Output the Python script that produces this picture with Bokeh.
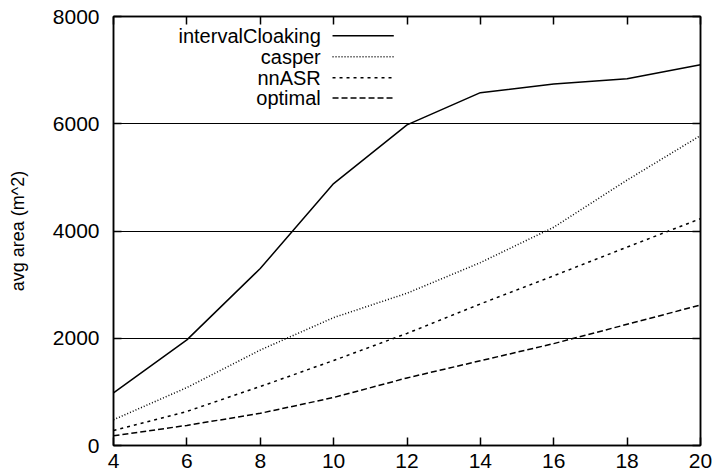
from bokeh.plotting import figure
from bokeh.models import Range1d, LinearAxis, FixedTicker
from bokeh.core.properties import value
from bokeh.embed import file_html
from bokeh.resources import INLINE

# ---- data ----
x_values = [4, 6, 8, 10, 12, 14, 16, 18, 20]
interval_cloaking = [980, 1970, 3300, 4885, 5980, 6580, 6740, 6840, 7100]
casper = [480, 1080, 1780, 2385, 2840, 3410, 4070, 4950, 5780]
nn_asr = [280, 635, 1100, 1585, 2090, 2640, 3165, 3700, 4230]
optimal = [180, 375, 600, 895, 1260, 1580, 1900, 2260, 2620]
series_names = ["intervalCloaking", "casper", "nnASR", "optimal"]
x_ticks = [4, 6, 8, 10, 12, 14, 16, 18, 20]
y_ticks = [0, 2000, 4000, 6000, 8000]
y_label = "avg area (m^2)"

series_values = [interval_cloaking, casper, nn_asr, optimal]
dashes = ["solid", "1 2", "3 4", "6 3"]

FONT = "Liberation Sans"

p = figure(width=717, height=475, output_backend="svg", toolbar_location=None,
           x_range=Range1d(4, 20), y_range=Range1d(0, 8000),
           min_border_left=113, min_border_right=17, min_border_top=16,
           min_border_bottom=30)
p.background_fill_color = "white"
p.border_fill_color = "white"
p.outline_line_color = "black"
p.outline_line_width = 1.5

for ax in [p.xaxis[0], p.yaxis[0]]:
    ax.major_tick_in = 8
    ax.major_tick_out = 0
    ax.minor_tick_in = 0
    ax.minor_tick_out = 0
    ax.axis_line_color = "black"
    ax.axis_line_width = 1.5
    ax.major_tick_line_color = "black"
    ax.major_tick_line_width = 1.5
    ax.major_label_text_font = FONT
    ax.major_label_text_font_size = "21px"
    ax.major_label_text_color = "black"

p.xaxis[0].ticker = FixedTicker(ticks=x_ticks)
p.yaxis[0].ticker = FixedTicker(ticks=y_ticks)
p.xaxis[0].major_label_standoff = 8
p.yaxis[0].major_label_standoff = 14
p.yaxis[0].axis_label = y_label
p.yaxis[0].axis_label_text_font = FONT
p.yaxis[0].axis_label_text_font_size = "18px"
p.yaxis[0].axis_label_text_font_style = "normal"
p.yaxis[0].axis_label_text_color = "black"
p.yaxis[0].axis_label_standoff = 22

# mirror ticks on top and right (no labels)
top_axis = LinearAxis(ticker=FixedTicker(ticks=x_ticks), major_tick_in=8, major_tick_out=0,
                      minor_tick_in=0, minor_tick_out=0,
                      major_label_overrides={t: "" for t in x_ticks},
                      major_label_standoff=0, axis_line_width=1.5, major_tick_line_width=1.5)
right_axis = LinearAxis(ticker=FixedTicker(ticks=y_ticks), major_tick_in=8, major_tick_out=0,
                        minor_tick_in=0, minor_tick_out=0,
                        major_label_overrides={t: "" for t in y_ticks},
                        major_label_standoff=0, axis_line_width=1.5, major_tick_line_width=1.5)
p.add_layout(top_axis, "above")
p.add_layout(right_axis, "right")

p.xgrid.visible = False
p.ygrid.ticker = FixedTicker(ticks=y_ticks)
p.ygrid.grid_line_color = "black"
p.ygrid.grid_line_width = 1
p.ygrid.grid_line_alpha = 1.0

for vals, dash in zip(series_values, dashes):
    p.line(x_values, vals, line_color="black", line_width=1.5, line_dash=dash)

# legend (text right-aligned, sample line to the right)
leg_text_x = 9.65
leg_line_x0 = 9.97
leg_line_x1 = 11.64
leg_ys = [7640, 7250, 6860, 6480]
p.text(x=[leg_text_x] * 4, y=leg_ys, text=series_names, text_align="right",
       text_baseline="middle", text_font=value(FONT), text_font_size="20px",
       text_color="black")
for yv, dash in zip(leg_ys, dashes):
    p.line([leg_line_x0, leg_line_x1], [yv, yv], line_color="black", line_width=1.5,
           line_dash=dash)

open("out.html", "w").write(file_html(p, INLINE))
